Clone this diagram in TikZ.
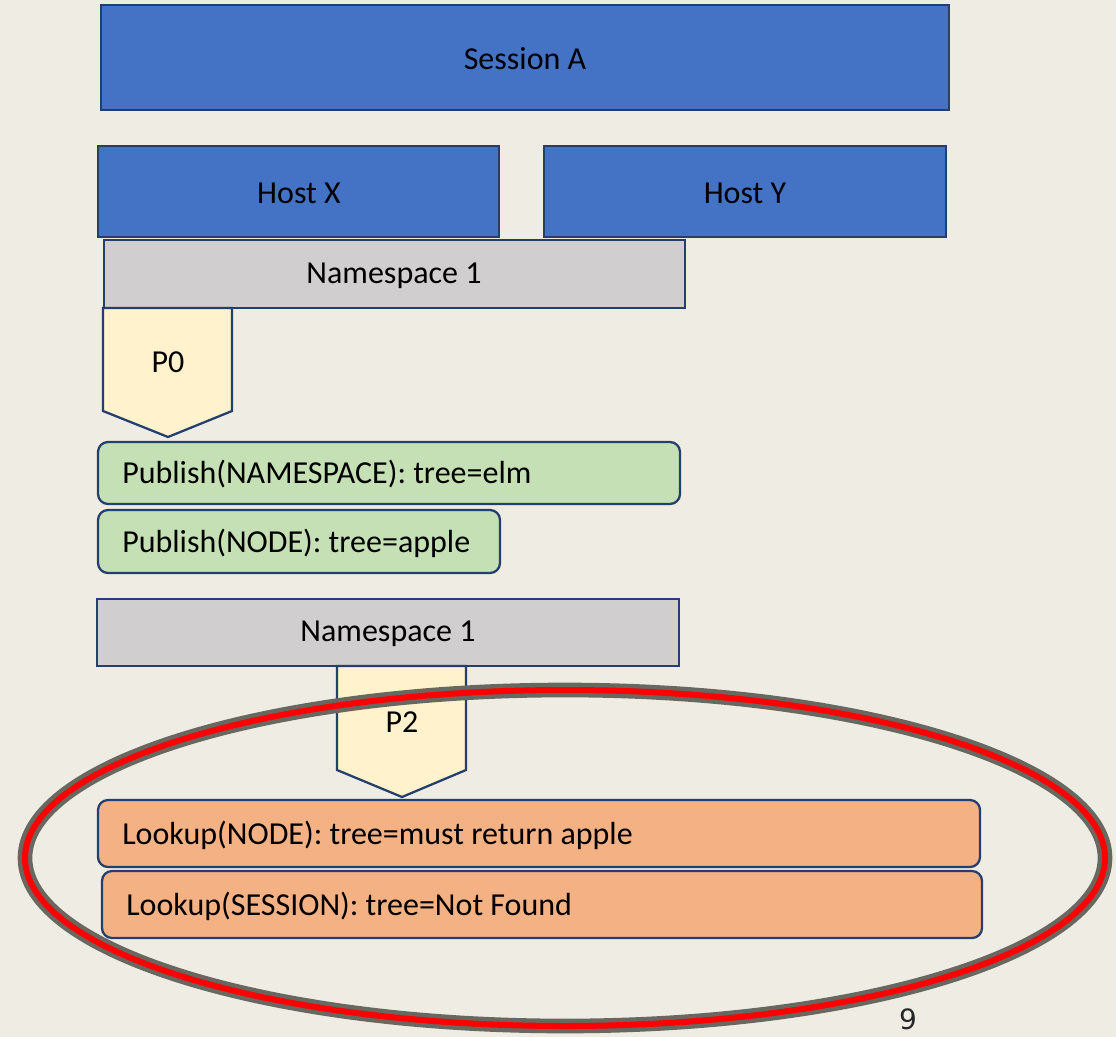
\documentclass[tikz,border=0pt]{standalone}
\usepackage{fontspec}
\setmainfont{Carlito}
\newfontfamily\numfont{DejaVu Sans}
\definecolor{bg}{RGB}{239,236,228}
\definecolor{hostblue}{RGB}{68,114,196}
\definecolor{edgeblue}{RGB}{36,62,110}
\definecolor{nsgray}{RGB}{208,206,206}
\definecolor{pyellow}{RGB}{255,242,204}
\definecolor{pgreen}{RGB}{197,224,180}
\definecolor{porange}{RGB}{244,177,131}
\definecolor{ringgray}{RGB}{104,104,96}
\definecolor{numgray}{RGB}{40,40,40}
\begin{document}
\begin{tikzpicture}[x=0.75pt,y=-0.75pt,
  txt/.style={font=\fontsize{24}{28}\selectfont,inner sep=0pt},
  bluebox/.style={draw=edgeblue,line width=2.2pt,fill=hostblue},
  nsbox/.style={draw=edgeblue,line width=1.7pt,fill=nsgray},
  pent/.style={draw=edgeblue,line width=1.7pt,fill=pyellow,line join=miter},
  greenbox/.style={draw=edgeblue,line width=1.7pt,fill=pgreen,rounded corners=7.5pt},
  orangebox/.style={draw=edgeblue,line width=1.7pt,fill=porange,rounded corners=7.5pt}]
\fill[bg] (0,0) rectangle (1116,1037);
\useasboundingbox (0,0) rectangle (1116,1037);
% session and hosts
\draw[bluebox] (101,5) rectangle (949,110);
\node[txt] (sessA) at (525,59) {Session A};
\draw[bluebox] (98,146) rectangle (499,237);
\node[txt] (hostX) at (299,193) {Host X};
\draw[bluebox] (544,146) rectangle (946,237);
\node[txt] (hostY) at (745,193) {Host Y};
% namespace 1 top
\draw[nsbox] (104,240) rectangle (685,308);
\node[txt] (ns1) at (394,276) {Namespace 1};
% P0
\draw[pent] (103,308) -- (232,308) -- (232,411) -- (168,437) -- (103,411) -- cycle;
\node[txt] (p0) at (168,362) {P0};
% publish boxes
\draw[greenbox] (98,442) rectangle (680,504);
\node[txt,anchor=west] (pub1) at (122,474) {Publish(NAMESPACE): tree=elm};
\draw[greenbox] (98,510) rectangle (500,573);
\node[txt,anchor=west] (pub2) at (122,543) {Publish(NODE): tree=apple};
% namespace 1 bottom
\draw[nsbox] (97,599) rectangle (679,666);
\node[txt] (ns2) at (388,634) {Namespace 1};
% P2
\draw[pent] (337,666) -- (466,666) -- (466,770) -- (402,797) -- (337,770) -- cycle;
\node[txt] (p2) at (402,722) {P2};
% lookup boxes
\draw[orangebox] (98,800) rectangle (980,867);
\node[txt,anchor=west] (look1) at (122,835) {Lookup(NODE): tree=must return apple};
\draw[orangebox] (102,871) rectangle (982,938);
\node[txt,anchor=west] (look2) at (126,906) {Lookup(SESSION): tree=Not Found};
% ring
\draw[ringgray,line width=11pt] (565,858) ellipse [x radius=540, y radius=168];
\draw[red,line width=4.5pt] (565,858) ellipse [x radius=540, y radius=168];
% page number
\node[font=\numfont\fontsize{21}{23}\selectfont,text=numgray,inner sep=0pt] (pnum) at (908,1019) {9};
\end{tikzpicture}
\end{document}
